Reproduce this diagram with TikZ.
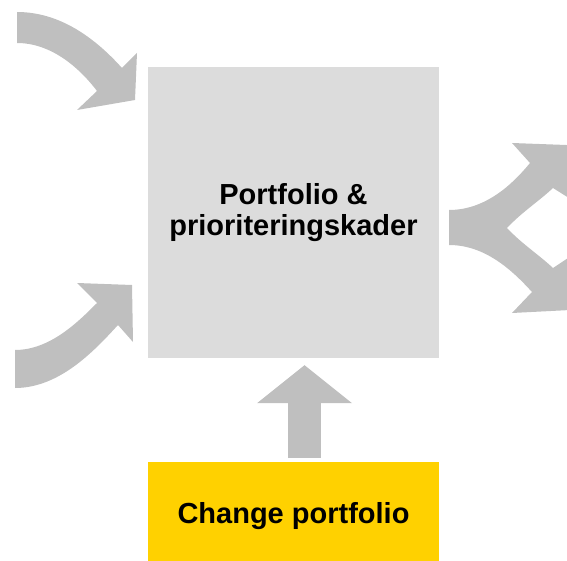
\documentclass[tikz,border=0pt]{standalone}
\usepackage{fontspec}
\setmainfont{Liberation Sans}
\usepackage{tikz}
\usetikzlibrary{arrows.meta,positioning,calc}
\definecolor{kadergray}{HTML}{DCDCDC}
\definecolor{arrowgray}{HTML}{BFBFBF}
\definecolor{changeyellow}{HTML}{FFD100}
\tikzset{
    kader box/.style={fill=kadergray,minimum width=291pt,minimum height=291pt,inner sep=0pt,align=center},
    change box/.style={fill=changeyellow,minimum width=291pt,minimum height=108pt,inner sep=0pt},
    curved arrow/.style={fill=arrowgray},
    up arrow/.style={draw=arrowgray,line width=33pt,-{Triangle[length=38pt,width=95pt,line width=0pt]}},
}
\tikzstyle{every node}=[font=\bfseries\fontsize{29}{31}\selectfont]

\begin{document}
\begin{tikzpicture}[x=1pt,y=-1pt]
        \useasboundingbox (0,0) rectangle (567,561);
        \clip (0,0) rectangle (567,561);

        \node[kader box] (kader) at (293.5,212.5) {Portfolio \&\\prioriteringskader};
        \node[change box,below=104pt of kader] (change) {Change portfolio};

        \draw[up arrow] ([xshift=11pt,yshift=4pt]change.north) -- ([xshift=11pt,yshift=-7pt]kader.south);

        % incoming arrows
        \fill[curved arrow] (17,12) .. controls (60,12) and (95,38) .. (122,68) -- (137,53) -- (135,100)
            -- (77,110) -- (97,91) .. controls (78,66) and (50,43) .. (17,43) -- cycle;
        \fill[curved arrow] (15,350) .. controls (50,350) and (78,322) .. (97,303) -- (77,283) -- (132,285)
            -- (133,342) -- (118,325) .. controls (95,350) and (60,388) .. (15,388) -- cycle;

        % outgoing arrows
        \fill[curved arrow] (449,210) .. controls (485,210) and (512,185) .. (530,163) -- (512,143) -- (580,145.5)
            -- (580,205) -- (553,188) .. controls (538,202) and (522,212) .. (507,228)
            .. controls (522,244) and (538,254) .. (553,268) -- (580,250) -- (580,309.5) -- (512,313)
            -- (532,292) .. controls (512,270) and (485,245) .. (449,245) -- cycle;
\end{tikzpicture}
\end{document}
